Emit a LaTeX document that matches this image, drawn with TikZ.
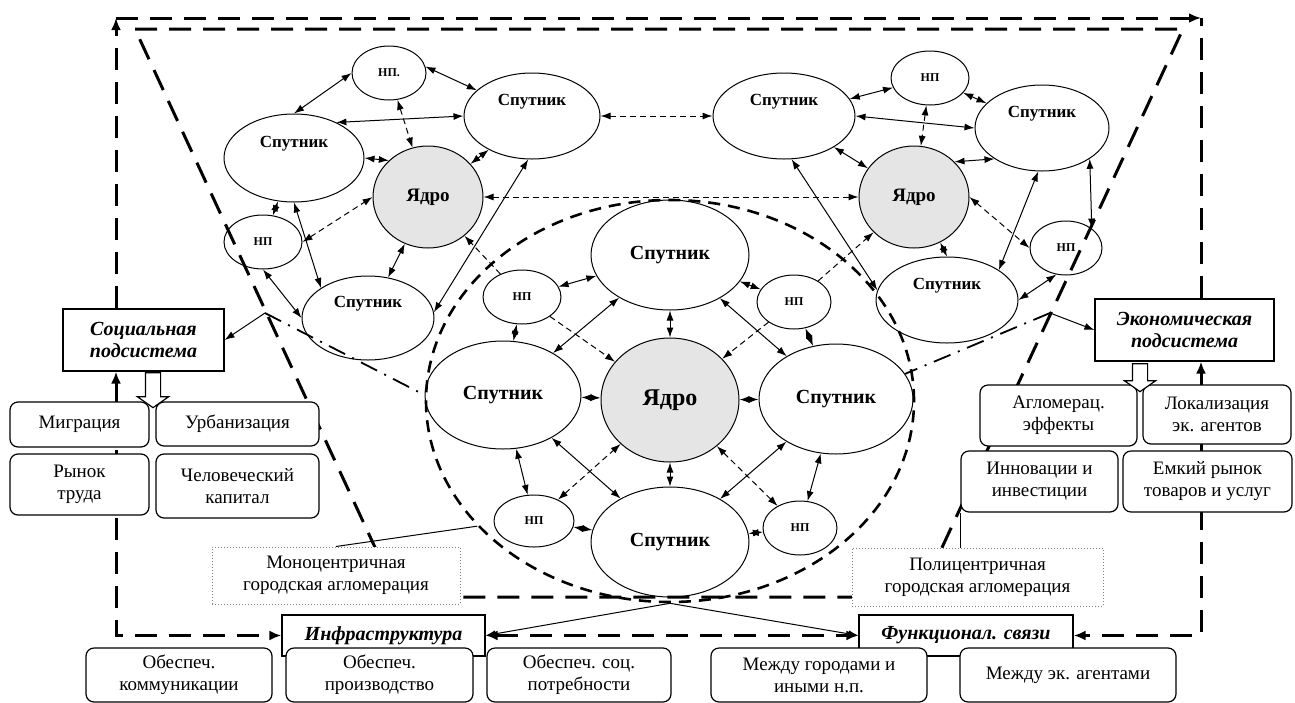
\documentclass[tikz,border=0pt]{standalone}
\usepackage{fontspec}
\setmainfont{Liberation Serif}
\usetikzlibrary{arrows.meta,shapes.geometric,shapes.arrows,backgrounds}

\tikzset{
  sz/.style 2 args={minimum width=#1pt,minimum height=#2pt},
  sat/.style={ellipse,draw,line width=0.5pt,inner sep=0pt,font=\bfseries\fontsize{10}{12}\selectfont},
  satlab/.style={yshift=7pt,font=\bfseries\fontsize{8.5}{10}\selectfont},
  core/.style={ellipse,draw,line width=0.5pt,fill=gray!20,inner sep=0pt,font=\bfseries\fontsize{9.5}{11}\selectfont},
  np/.style={ellipse,draw,line width=0.5pt,inner sep=0pt,font=\bfseries\fontsize{6}{7}\selectfont},
  rbox/.style={draw,line width=0.6pt,rounded corners=4pt,fill=white,align=center,inner sep=1pt,font=\fontsize{9.5}{11}\selectfont},
  subsys/.style={draw,line width=0.6pt,fill=white,align=center,inner sep=1pt,font=\bfseries\itshape\fontsize{10}{11}\selectfont},
  agltag/.style={draw=gray,densely dotted,line width=0.5pt,fill=white,align=center,inner sep=1pt,font=\fontsize{9.5}{11}\selectfont},
  hollow/.style={single arrow,draw,fill=white,line width=0.6pt,rotate=-90,inner xsep=0pt,inner ysep=3.5pt,single arrow head extend=4pt,single arrow tip angle=110},
  link/.style={line width=0.5pt},
  dlink/.style={line width=0.5pt,dash pattern=on 3pt off 2pt},
  bigdash/.style={line width=1.5pt,dash pattern=on 11pt off 6pt,>={Latex[length=6pt,width=5pt]}},
  ringline/.style={line width=1.3pt,dash pattern=on 6pt off 4pt},
  chainline/.style={line width=0.9pt,dash pattern=on 9pt off 4pt on 1pt off 4pt}
}

\begin{document}
\begin{tikzpicture}[x=0.5pt,y=-0.5pt,>={Latex[length=5pt,width=3.5pt]}]
\useasboundingbox (0,0) rectangle (1295,702);

% left cluster
\node[np,sz={37}{27}] (l_np1) at (389,73) {НП.};
\node[sat,sz={68}{43},label={[satlab]center:Спутник}] (l_s1) at (532,116) {};
\node[sat,sz={70}{44},label={[satlab]center:Спутник}] (l_s2) at (294,158) {};
\node[core,sz={55}{51}] (l_core) at (428,197) {Ядро};
\node[np,sz={39}{27}] (l_np2) at (263,242) {НП};
\node[sat,sz={66}{42},label={[satlab]center:Спутник}] (l_s3) at (368,318) {};

% right cluster
\node[np,sz={39}{27}] (r_np1) at (930,78) {НП};
\node[sat,sz={71}{43},label={[satlab]center:Спутник}] (r_s1) at (784,116) {};
\node[sat,sz={67}{43},label={[satlab]center:Спутник}] (r_s2) at (1042,128) {};
\node[core,sz={55}{51}] (r_core) at (914,197) {Ядро};
\node[np,sz={36}{27}] (r_np2) at (1066,248) {НП};
\node[sat,sz={71}{43},label={[satlab]center:Спутник}] (r_s3) at (947,300) {};

% central cluster
\node[core,sz={69}{62},font=\bfseries\fontsize{12}{14}\selectfont] (c_core) at (670,400) {Ядро};
\node[sat,sz={79}{55}] (c_s1) at (670,255) {Спутник};
\node[sat,sz={78}{54}] (c_s2) at (503,395) {Спутник};
\node[sat,sz={79}{55}] (c_s3) at (670,542) {Спутник};
\node[sat,sz={77}{55}] (c_s4) at (836,399) {Спутник};
\node[np,sz={39}{27}] (c_np1) at (522,297) {НП};
\node[np,sz={37}{27}] (c_np2) at (794,302) {НП};
\node[np,sz={40}{26}] (c_np3) at (534,521) {НП};
\node[np,sz={37}{27}] (c_np4) at (800,528) {НП};
\node[ellipse,ringline,draw,sz={244}{201}] (c_ring) at (670,401) {};

% subsystems and factors
\node[subsys,sz={80.5}{31}] (soc) at (143.5,340) {Социальная\\подсистема};
\node[subsys,sz={89.5}{31}] (econ) at (1184.5,330) {Экономическая\\подсистема};
\node[rbox,sz={69.5}{22.5}] (mig) at (79.5,424.5) {Миграция};
\node[rbox,sz={81.5}{22}] (urb) at (237.5,424) {Урбанизация};
\node[rbox,sz={69.5}{30.5}] (rynok) at (79.5,484.5) {Рынок\\труда};
\node[rbox,sz={81.5}{32}] (chel) at (237.5,486) {Человеческий\\капитал};
\node[rbox,sz={78.5}{30.5}] (aggl) at (1058.5,415.5) {Агломерац.\\эффекты};
\node[rbox,sz={74}{29.5}] (lokal) at (1217,414.5) {Локализация\\эк. агентов};
\node[rbox,sz={78.5}{30.5}] (innov) at (1039.5,481.5) {Инновации и\\инвестиции};
\node[rbox,sz={84.5}{30.5}] (emk) at (1207.5,481.5) {Емкий рынок\\товаров и услуг};
\node[hollow,minimum height=17.5pt] (soc_arr) at (153,387.5) {};
\node[hollow,minimum height=14pt] (eco_arr) at (1140,375) {};

\node[agltag,sz={124}{28.5}] (mono) at (336,575.5) {Моноцентричная\\городская агломерация};
\node[agltag,sz={125.5}{29}] (poly) at (977.5,577) {Полицентричная\\городская агломерация};

\node[subsys,sz={101.5}{20.5}] (infra) at (383.5,635.5) {Инфраструктура};
\node[subsys,sz={107}{20.5}] (func) at (966,635.5) {Функционал. связи};
\node[rbox,sz={93}{27}] (ob1) at (179,675) {Обеспеч.\\коммуникации};
\node[rbox,sz={93.5}{27}] (ob2) at (379.5,675) {Обеспеч.\\производство};
\node[rbox,sz={92}{27}] (ob3) at (579,675) {Обеспеч. соц.\\потребности};
\node[rbox,sz={108}{27}] (mezh1) at (819,675) {Между городами и\\иными н.п.};
\node[rbox,sz={108}{27}] (mezh2) at (1068,675) {Между эк. агентами};

% links inside the clusters
\path[<->,link]
  (l_np1.west) edge (l_s2.north)
  (l_np1.10) edge (l_s1.155)
  (l_s2.40) edge (l_s1.west)
  (l_s2.east) edge (l_core.137)
  (l_s1) edge (l_core)
  (l_s2) edge (l_np2)
  (l_s2.south) edge (l_s3.north west)
  (l_np2.south) edge (l_s3.west)
  (l_core) edge (l_s3)
  (l_s1.265) edge (l_s3.5);
\path[<->,dlink]
  (l_np1) edge (l_core)
  (l_np2.east) edge (l_core.west);

\path[<->,link]
  (r_s1) edge (r_np1)
  (r_np1) edge (r_s2)
  (r_s1.east) edge (r_s2.west)
  (r_s1) edge (r_core)
  (r_s2.213) edge (r_core.41)
  (r_s2.south east) edge (r_np2.north east)
  (r_core.300) edge (r_s3.north)
  (r_s2.265) edge (r_s3.30)
  (r_np2.250) edge (r_s3.east)
  (r_s1.280) edge (r_s3.172);
\path[<->,dlink]
  (r_np1) edge (r_core)
  (r_core.east) edge (r_np2.west);

\path[<->,link]
  (c_core) edge (c_s1)
  (c_core) edge (c_s2)
  (c_core) edge (c_s3)
  (c_core) edge (c_s4)
  (c_s1) edge (c_s2)
  (c_s1) edge (c_s4)
  (c_s3) edge (c_s2)
  (c_s3) edge (c_s4)
  (c_np1) edge (c_s1)
  (c_np1) edge (c_s2)
  (c_np2) edge (c_s1)
  (c_np2) edge (c_s4)
  (c_np3) edge (c_s2)
  (c_np3) edge (c_s3)
  (c_np4) edge (c_s4)
  (c_np4) edge (c_s3);
\path[->,dlink]
  (c_np1) edge (c_core)
  (c_np2) edge (c_core)
  (c_np1) edge (l_core)
  (c_np2) edge (r_core);
\path[<->,dlink]
  (c_np3) edge (c_core)
  (c_np4) edge (c_core)
  (l_core) edge (r_core)
  (l_s1) edge (r_s1);

% ties to the subsystems
\coordinate (soc_tap) at (265,313);
\coordinate (eco_tap) at (1050,313);
\draw[chainline] (soc_tap) -- (c_s2.west);
\draw[chainline] (eco_tap) -- (c_s4.20);
\draw[link,->] (soc_tap) -- (soc.east);
\draw[link,->] (eco_tap) -- (econ.west);
\draw[link] (mono.north) -- (c_ring.213);
\draw[link] (poly.north -| innov.south west) -- (innov.south west);
\path[->,link] (c_ring.south) edge (infra.east) edge (func.west);

\begin{scope}[on background layer]
  \coordinate (tl) at (116,18);
  \coordinate (tr) at (1201,18);
  \draw[bigdash] (135,29) -- (1183,29) -- (919,597) -- (398,597) -- cycle;
  \draw[bigdash,->] (soc.north -| tl) -- (tl);
  \draw[bigdash,->] (tl) -- (tr);
  \draw[bigdash] (econ.north -| tr) -- (tr);
  \draw[bigdash,<->] (soc.south -| tl) |- (infra.west);
  \draw[bigdash,<->] (econ.south -| tr) |- (func.east);
  \draw[bigdash,<->] (infra.east) -- (func.west);
\end{scope}
\end{tikzpicture}
\end{document}
